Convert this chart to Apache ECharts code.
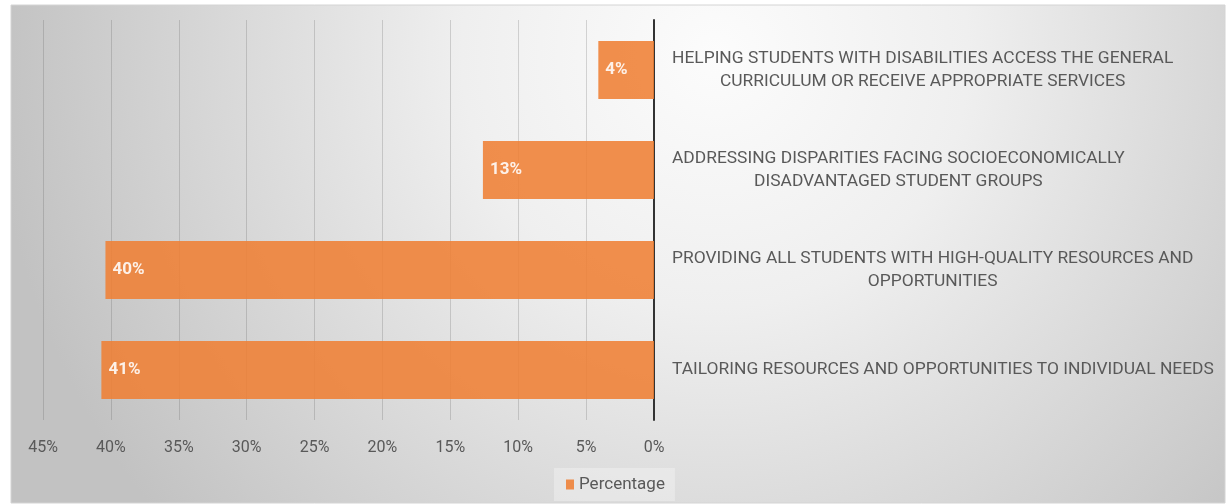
<!DOCTYPE html>
<html>
<head>
<meta charset="utf-8">
<script src="https://cdn.jsdelivr.net/npm/echarts@6/dist/echarts.min.js"></script>
<style>html,body{margin:0;padding:0;background:#fff}#c{width:1226px;height:504px}</style>
</head>
<body>
<div id="c"></div>
<script>
// Categories listed top to bottom
const categories = [
  'HELPING STUDENTS WITH DISABILITIES ACCESS THE GENERAL\nCURRICULUM OR RECEIVE APPROPRIATE SERVICES',
  'ADDRESSING DISPARITIES FACING SOCIOECONOMICALLY\nDISADVANTAGED STUDENT GROUPS',
  'PROVIDING ALL STUDENTS WITH HIGH-QUALITY RESOURCES AND\nOPPORTUNITIES',
  'TAILORING RESOURCES AND OPPORTUNITIES TO INDIVIDUAL NEEDS'
];
const percentage = [4.1, 12.6, 40.4, 40.7];
const seriesName = 'Percentage';
const axisMin = 0, axisMax = 45, axisStep = 5;

const FONT = '"Roboto", sans-serif';
const chart = echarts.init(document.getElementById('c'), null, {renderer: 'canvas'});
chart.setOption({
  animation: false,
  backgroundColor: '#ffffff',
  graphic: [{
    type: 'rect', z: -10, silent: true,
    shape: {x: 11, y: 5, width: 1214, height: 498},
    style: {
      fill: {type: 'radial', x: 0.58, y: 0.1, r: 1.45,
        colorStops: [{offset: 0, color: '#fcfcfc'}, {offset: 0.35, color: '#efefef'}, {offset: 1, color: '#c2c2c2'}]},
      stroke: '#d4d4d4', lineWidth: 1
    }
  }],
  grid: {left: 43, right: 572, top: 20, bottom: 84, containLabel: false},
  legend: {
    data: [seriesName], left: 554, top: 468,
    itemWidth: 8, itemHeight: 10, icon: 'rect',
    backgroundColor: 'rgba(255,255,255,0.3)', padding: [8, 10, 8, 12],
    textStyle: {color: '#595959', fontSize: 17, fontFamily: FONT}
  },
  xAxis: {
    type: 'value', inverse: true, min: axisMin, max: axisMax, interval: axisStep,
    axisLine: {show: false}, axisTick: {show: false},
    splitLine: {show: true, lineStyle: {color: 'rgba(80,80,80,0.22)', width: 1}},
    axisLabel: {formatter: '{value}%', color: '#595959', fontSize: 16, fontFamily: FONT, margin: 20}
  },
  yAxis: {
    type: 'category', data: categories, inverse: true, position: 'right',
    axisLine: {show: true, lineStyle: {color: '#333333', width: 2}},
    axisTick: {show: false},
    axisLabel: {
      margin: 18, align: 'left', color: '#595959', fontSize: 17.4, fontFamily: FONT, lineHeight: 23,
      formatter: v => v.split('\n').map(s => '{c|' + s + '}').join('\n'),
      rich: {c: {align: 'center', color: '#595959', fontSize: 17.4, fontFamily: FONT, lineHeight: 23}}
    }
  },
  series: [{
    name: seriesName, type: 'bar', data: percentage, barWidth: 58,
    itemStyle: {color: 'rgb(239,127,52)', opacity: 0.88},
    label: {
      show: true, position: 'insideLeft', distance: 7,
      formatter: p => Math.round(p.value) + '%',
      color: '#ffffff', fontWeight: 'bold', fontSize: 17, fontFamily: FONT
    }
  }]
});
</script>
</body>
</html>
